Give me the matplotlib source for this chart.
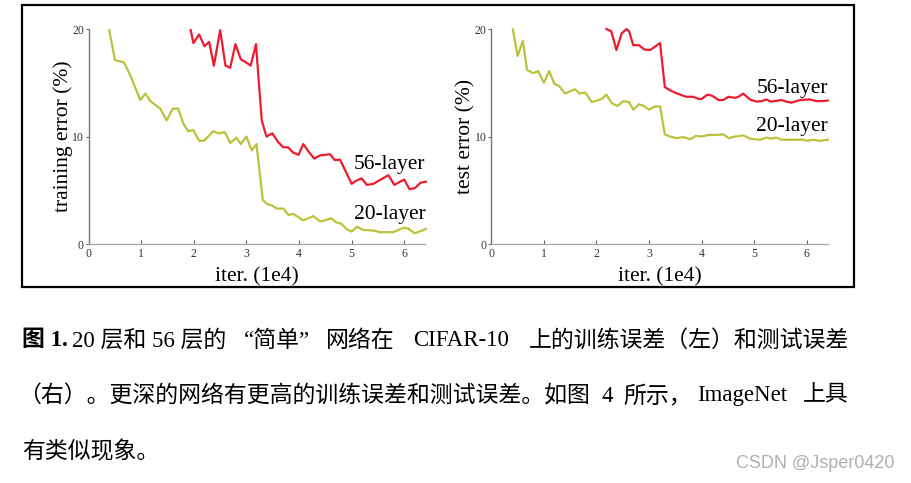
import matplotlib.pyplot as plt
from matplotlib.patches import Rectangle

# curves (x in 1e4 iterations, y in %)
train_20_x = [0.39, 0.5, 0.67, 0.79, 0.98, 1.08, 1.17, 1.36, 1.48, 1.6, 1.7, 1.8, 1.89, 1.99, 2.1, 2.19,
              2.37, 2.46, 2.59, 2.69, 2.81, 2.89, 3.0, 3.1, 3.19, 3.31, 3.4, 3.48, 3.57, 3.7, 3.8, 3.89,
              4.08, 4.27, 4.4, 4.49, 4.61, 4.71, 4.8, 4.9, 5.0, 5.1, 5.22, 5.41, 5.54, 5.79, 5.98, 6.07,
              6.2, 6.31, 6.41]
train_20_y = [19.9, 17.1, 16.9, 15.7, 13.4, 14.0, 13.3, 12.6, 11.5, 12.6, 12.6, 11.2, 10.5, 10.6, 9.6, 9.6,
              10.5, 10.3, 10.4, 9.4, 9.9, 9.3, 10.0, 8.7, 9.3, 4.1, 3.7, 3.6, 3.3, 3.3, 2.7, 2.8,
              2.2, 2.6, 2.1, 2.2, 2.4, 2.0, 1.9, 1.4, 1.15, 1.6, 1.3, 1.25, 1.1, 1.1, 1.5, 1.45,
              1.0, 1.2, 1.4]

train_56_x = [1.94, 1.99, 2.1, 2.2, 2.29, 2.38, 2.5, 2.6, 2.69, 2.79, 2.89, 2.99, 3.08, 3.18, 3.29, 3.38,
              3.49, 3.6, 3.7, 3.79, 3.89, 3.99, 4.08, 4.18, 4.29, 4.4, 4.59, 4.68, 4.78, 5.0, 5.09, 5.19,
              5.29, 5.41, 5.7, 5.81, 6.0, 6.1, 6.2, 6.31, 6.41]
train_56_y = [19.9, 18.7, 19.5, 18.4, 18.8, 16.6, 19.9, 16.6, 16.4, 18.6, 17.2, 16.9, 16.6, 18.6, 11.5, 10.0,
              10.3, 9.5, 9.0, 9.0, 8.5, 8.3, 9.3, 8.6, 7.95, 8.25, 8.35, 7.8, 7.85, 5.6, 5.9, 6.1,
              5.5, 5.6, 6.4, 5.5, 6.0, 5.1, 5.2, 5.7, 5.8]

test_20_x = [0.41, 0.5, 0.6, 0.68, 0.8, 0.89, 1.0, 1.1, 1.2, 1.29, 1.4, 1.59, 1.68, 1.79, 1.91, 2.1, 2.19,
             2.29, 2.4, 2.51, 2.62, 2.7, 2.81, 2.9, 3.0, 3.11, 3.21, 3.3, 3.4, 3.52, 3.65, 3.79, 3.89, 4.0,
             4.13, 4.28, 4.41, 4.52, 4.63, 4.8, 4.92, 5.11, 5.23, 5.33, 5.42, 5.52, 5.74, 5.93, 6.01,
             6.12, 6.25, 6.4]
test_20_y = [19.97, 17.5, 18.9, 16.2, 15.9, 16.1, 15.0, 16.1, 14.9, 14.7, 14.0, 14.4, 14.0, 14.1, 13.2, 13.5,
             13.9, 13.1, 12.85, 13.3, 13.2, 12.5, 13.0, 12.85, 12.5, 12.8, 12.8, 10.2, 10.0, 9.85, 9.95,
             9.75, 10.06, 10.0, 10.15, 10.15, 10.2, 9.85, 10.0, 10.1, 9.8, 9.7, 9.9, 9.8, 9.9, 9.7, 9.7,
             9.7, 9.6, 9.7, 9.6, 9.7]

test_56_x = [2.19, 2.28, 2.38, 2.48, 2.57, 2.62, 2.7, 2.81, 2.91, 3.02, 3.11, 3.21, 3.3, 3.4, 3.49, 3.59,
             3.71, 3.84, 3.94, 4.0, 4.11, 4.2, 4.32, 4.41, 4.51, 4.63, 4.7, 4.79, 4.92, 5.04, 5.14, 5.23,
             5.32, 5.52, 5.61, 5.71, 5.87, 6.06, 6.18, 6.31, 6.4]
test_56_y = [20.0, 19.8, 18.05, 19.6, 20.0, 19.8, 18.5, 18.5, 18.1, 18.05, 18.35, 18.7, 14.6, 14.3, 14.1, 13.9,
             13.7, 13.7, 13.5, 13.5, 13.9, 13.8, 13.4, 13.4, 13.7, 13.6, 13.7, 14.0, 13.45, 13.25, 13.3, 13.45,
             13.25, 13.4, 13.25, 13.15, 13.4, 13.45, 13.3, 13.3, 13.35]

x_ticks = [0, 1, 2, 3, 4, 5, 6]
y_ticks = [0, 10, 20]

# caption pieces (justified text in the reference, so placed piece by piece)
caption_bold = "图 1."
caption_line1 = ["20 层和 56 层的", "“简单”", "网络在", "CIFAR-10", "上的训练误差（左）和测试误差"]
caption_line2 = ["（右）。更深的网络有更高的训练误差和测试误差。如图", "4", "所示，", "ImageNet", "上具"]
caption_line3 = "有类似现象。"
watermark = "CSDN @Jsper0420"

RED = '#ec1c2e'
OLIVE = '#bcc23c'
SERIF = ['Liberation Serif', 'Noto Sans CJK SC']

fig = plt.figure(figsize=(9.12, 4.83), dpi=100)
fig.patch.set_facecolor('white')

# frame around the two panels
fig.patches.append(Rectangle((22 / 912, 1 - 287 / 483), (854 - 22) / 912, (287 - 5) / 483,
                             transform=fig.transFigure, fill=False, edgecolor='black', linewidth=1.6))

panels = [
    (0.0973, train_20_x, train_20_y, train_56_x, train_56_y, 'training error (%)', 7.4, 2.7),
    (0.5387, test_20_x, test_20_y, test_56_x, test_56_y, 'test error (%)', 14.5, 10.9),
]

for left, x20, y20, x56, y56, ylabel, y56_lab, y20_lab in panels:
    ax = fig.add_axes([left, 0.4948, 0.369, 0.445])
    ax.plot(x20, y20, color=OLIVE, linewidth=1.6, clip_on=False)
    ax.plot(x56, y56, color=RED, linewidth=1.6, clip_on=False)
    ax.set_xlim(0, 6.4)
    ax.set_ylim(0, 20)
    ax.set_xticks(x_ticks)
    ax.set_yticks(y_ticks)
    for lab in ax.get_xticklabels() + ax.get_yticklabels():
        lab.set_family('Liberation Serif')
        lab.set_fontsize(8.5)
        lab.set_color('#333333')
    ax.tick_params(axis='x', direction='in', length=3, width=0.8, color='#666666', pad=3)
    ax.tick_params(axis='y', direction='out', length=2.5, width=0.8, color='#666666', pad=1)
    for side in ['top', 'right']:
        ax.spines[side].set_visible(False)
    ax.spines['left'].set_color('#777777')
    ax.spines['bottom'].set_color('#aaaaaa')
    ax.spines['left'].set_linewidth(1.0)
    ax.spines['bottom'].set_linewidth(1.0)
    ax.set_xlabel('iter. (1e4)', family='Liberation Serif', fontsize=15.5, labelpad=5)
    ax.set_ylabel(ylabel, family='Liberation Serif', fontsize=15.5, labelpad=-1)
    ax.text(6.4, y56_lab, '56-layer', family='Liberation Serif', fontsize=15.5,
            ha='right', va='center')
    ax.text(6.4, y20_lab, '20-layer', family='Liberation Serif', fontsize=15.5,
            ha='right', va='center')

# caption under the figure
def put(x_px, y_px, s, ha='left', **kw):
    fig.text(x_px / 912, 1 - y_px / 483, s, family=SERIF, fontsize=16.5,
             va='center', ha=ha, **kw)

put(22, 341, caption_bold, fontweight='bold')
for x_px, s in zip([72, 244, 326, 413], caption_line1[:4]):
    put(x_px, 341, s)
put(849, 341, caption_line1[4], ha='right')

for x_px, s in zip([18, 602, 623, 697], caption_line2[:4]):
    put(x_px, 396, s)
put(849, 396, caption_line2[4], ha='right')

put(22, 452, caption_line3)

fig.text(895 / 912, 1 - 463 / 483, watermark, family='Liberation Sans', fontsize=13,
         color='#b0b0b0', va='center', ha='right')

fig.savefig('out.png', dpi=100, facecolor='white')
